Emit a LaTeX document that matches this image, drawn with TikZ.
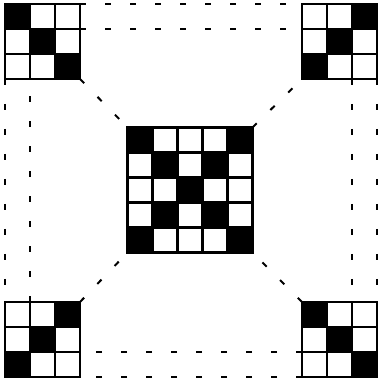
\documentclass[tikz,border=0pt]{standalone}
\tikzset{
  gridline/.style={line width=2.7pt, line join=miter},
  dashline/.style={line width=2pt, dash pattern=on 6pt off 19pt},
  blackcell/.style={fill=black}
}
% #1,#2 = top-left corner, #3 = side, #4 = inner line offsets, #5 = black cells col/row
\newcommand\cellgrid[5]{%
  \begin{scope}[shift={(#1,#2)}]
    \foreach \c/\r in {#5} {\fill[blackcell] (25*\c,25*\r) rectangle ++(25,25);}
    \foreach \k in {#4} {\draw[gridline] (\k,0) -- (\k,#3) (0,\k) -- (#3,\k);}
    \draw[gridline] (0,0) rectangle (#3,#3);
  \end{scope}}
\begin{document}
\begin{tikzpicture}[x=1pt,y=-1pt]
\useasboundingbox (0,0) rectangle (380,379);
% grids
\cellgrid{5}{4}{75}{25,50}{0/0,1/1,2/2}
\cellgrid{302}{4}{75}{25,50}{2/0,1/1,0/2}
\cellgrid{5}{302}{75}{25,50}{2/0,1/1,0/2}
\cellgrid{302}{302}{75}{25,50}{0/0,1/1,2/2}
\cellgrid{127.5}{127.5}{125}{25,50,75,100}{0/0,4/0,1/1,3/1,2/2,1/3,3/3,0/4,4/4}
% named end points
\coordinate (tlA) at (80,4);   \coordinate (trA) at (302,4);
\coordinate (tlB) at (80,29);  \coordinate (trB) at (302,29);
\coordinate (trC) at (352,79); \coordinate (brC) at (352,302);
\coordinate (trD) at (377,79); \coordinate (brD) at (377,302);
\coordinate (brE) at (302,352); \coordinate (blE) at (80,352);
\coordinate (brF) at (302,377); \coordinate (blF) at (80,377);
\coordinate (tlG) at (5,79);   \coordinate (blG) at (5,302);
\coordinate (blH) at (30,302); \coordinate (tlH) at (30,79);
\coordinate (tlK) at (80,79);  \coordinate (trK) at (302,79);
\coordinate (blK) at (80,302); \coordinate (brK) at (302,302);
\coordinate (cNW) at (127.5,127.5); \coordinate (cNE) at (252.5,127.5);
\coordinate (cSW) at (127.5,252.5); \coordinate (cSE) at (252.5,252.5);
% dashed connectors
\draw[dashline] (tlA) -- (trA);
\draw[dashline] (tlB) -- (trB);
\draw[dashline] (trC) -- (brC);
\draw[dashline] (trD) -- (brD);
\draw[dashline] (brE) -- (blE);
\draw[dashline] (brF) -- (blF);
\draw[dashline] (tlG) -- (blG);
\draw[dashline] (blH) -- (tlH);
\draw[dashline] (tlK) -- (cNW);
\draw[dashline] (cNE) -- (trK);
\draw[dashline] (blK) -- (cSW);
\draw[dashline] (brK) -- (cSE);
\end{tikzpicture}
\end{document}
